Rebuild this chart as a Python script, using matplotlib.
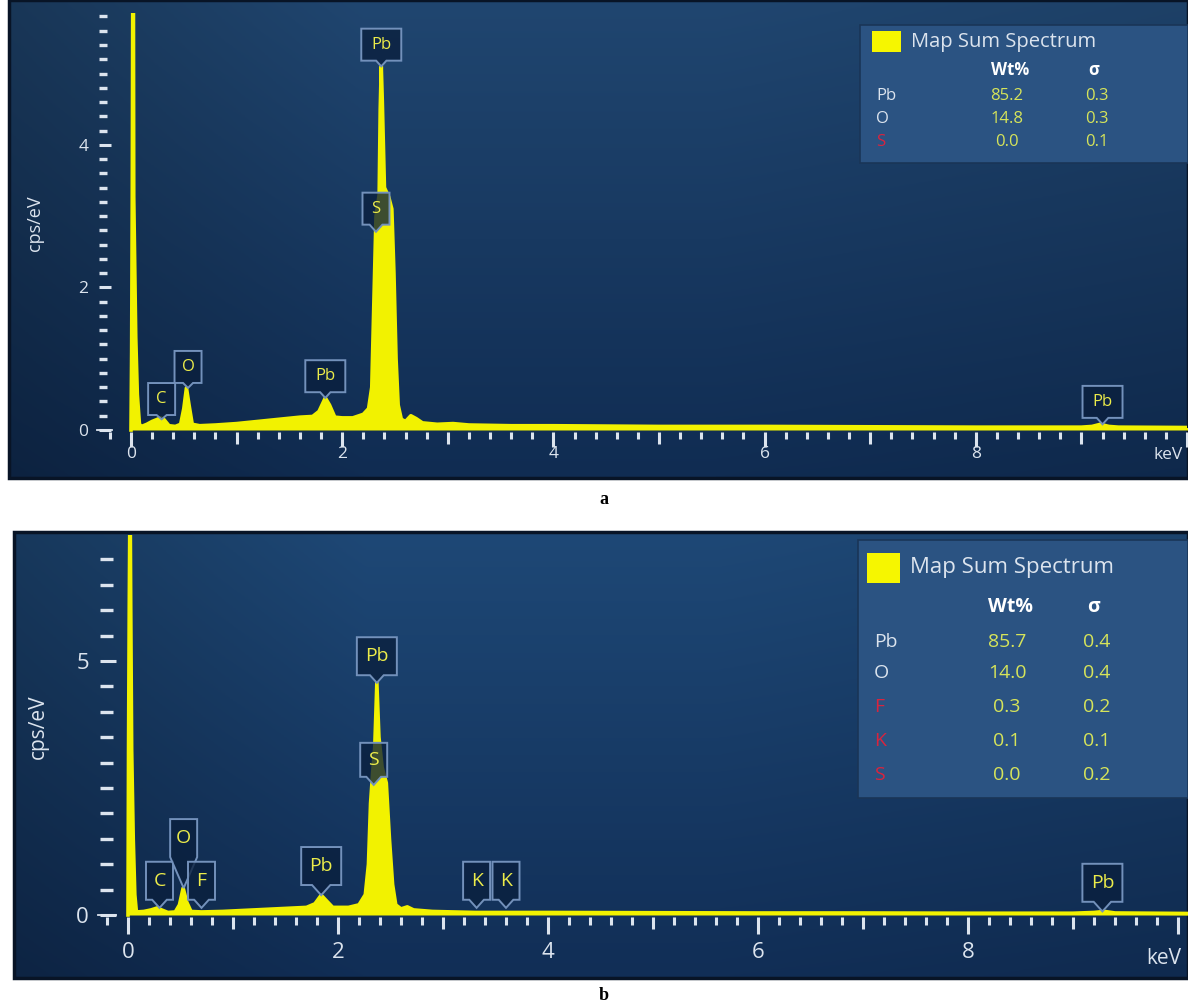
import matplotlib.pyplot as plt
import numpy as np
from matplotlib.patches import Rectangle, Polygon
from matplotlib.transforms import ScaledTranslation
from matplotlib.ticker import MultipleLocator, FuncFormatter

plt.rcParams['font.family'] = ['Open Sans', 'DejaVu Sans']

W, H = 1188, 1007

# ---- spectrum a (keV, cps/eV)
energy_a = [0.0, 0.006, 0.012, 0.018, 0.022, 0.026, 0.045, 0.06, 0.08, 0.1, 0.15, 0.2, 0.25,
            0.28, 0.31, 0.36, 0.42, 0.47, 0.5, 0.525, 0.55, 0.58, 0.65, 0.8, 1.0, 1.2, 1.4,
            1.6, 1.72, 1.78, 1.84, 1.88, 1.93, 2.0, 2.1, 2.2, 2.25, 2.28, 2.3, 2.32, 2.35,
            2.36, 2.37, 2.38, 2.4, 2.44, 2.47, 2.49, 2.51, 2.53, 2.56, 2.6, 2.65, 2.7, 2.76,
            2.9, 3.05, 3.2, 3.6, 4.0, 5.0, 6.0, 7.0, 8.0, 9.0, 9.1, 9.18, 9.26, 9.35, 10.0, 10.1]
counts_a = [0.0, 1.1, 3.27, 7.0, 7.0, 3.27, 1.3, 0.5, 0.08, 0.05, 0.08, 0.12, 0.15,
            0.17, 0.15, 0.06, 0.05, 0.08, 0.3, 0.59, 0.35, 0.08, 0.06, 0.07, 0.09, 0.12, 0.15,
            0.18, 0.19, 0.26, 0.45, 0.35, 0.18, 0.17, 0.17, 0.22, 0.3, 0.6, 1.8, 3.0, 3.3,
            4.5, 5.1, 4.6, 3.4, 3.27, 3.1, 2.2, 1.0, 0.35, 0.15, 0.12, 0.2, 0.16, 0.1,
            0.08, 0.09, 0.07, 0.06, 0.06, 0.05, 0.05, 0.045, 0.04, 0.04, 0.05, 0.08, 0.05, 0.04, 0.035, 0.035]

# ---- spectrum b
energy_b = [0.0, 0.005, 0.012, 0.018, 0.021, 0.026, 0.035, 0.05, 0.065, 0.08, 0.15, 0.22, 0.28,
            0.32, 0.38, 0.45, 0.49, 0.525, 0.56, 0.6, 0.7, 0.9, 1.2, 1.5, 1.7, 1.78, 1.84,
            1.89, 1.95, 2.1, 2.2, 2.26, 2.29, 2.31, 2.33, 2.35, 2.37, 2.39, 2.42, 2.46, 2.49,
            2.52, 2.55, 2.6, 2.66, 2.72, 2.9, 3.1, 3.31, 3.59, 4.0, 5.0, 6.0, 7.0, 8.0, 9.0,
            9.2, 9.3, 9.4, 10.1]
counts_b = [0.0, 3.25, 6.1, 8.0, 8.0, 6.1, 3.25, 1.5, 0.4, 0.06, 0.07, 0.1, 0.14,
            0.1, 0.05, 0.06, 0.2, 0.53, 0.25, 0.07, 0.06, 0.07, 0.1, 0.13, 0.15, 0.22, 0.39,
            0.28, 0.15, 0.15, 0.2, 0.4, 1.0, 2.2, 2.8, 3.3, 4.57, 3.5, 2.91, 2.6, 1.5,
            0.6, 0.2, 0.12, 0.16, 0.1, 0.07, 0.06, 0.05, 0.05, 0.05, 0.045, 0.04, 0.04, 0.035, 0.035,
            0.05, 0.07, 0.04, 0.03]

# ---- peak markers: element, energy, tip height, box bottom
peak_el_a = ['C', 'O', 'Pb', 'S', 'Pb', 'Pb']
peak_x_a = [0.29, 0.54, 1.84, 2.32, 2.37, 9.2]
peak_tip_a = [0.15, 0.59, 0.45, 2.78, 5.1, 0.08]
peak_box_a = [0.21, 0.66, 0.53, 2.88, 5.18, 0.17]

peak_el_b = ['C', 'O', 'F', 'Pb', 'S', 'Pb', 'K', 'K', 'Pb']
peak_x_b = [0.30, 0.53, 0.70, 1.84, 2.34, 2.37, 3.32, 3.60, 9.28]
peak_tip_b = [0.14, 0.53, 0.14, 0.39, 2.56, 4.57, 0.14, 0.14, 0.07]
peak_box_b = [0.30, 1.14, 0.30, 0.59, 2.72, 4.72, 0.30, 0.30, 0.26]

# ---- quantification tables
quant_el_a = ['Pb', 'O', 'S']
quant_wt_a = [85.2, 14.8, 0.0]
quant_sd_a = [0.3, 0.3, 0.1]

quant_el_b = ['Pb', 'O', 'F', 'K', 'S']
quant_wt_b = [85.7, 14.0, 0.3, 0.1, 0.0]
quant_sd_b = [0.4, 0.4, 0.2, 0.1, 0.2]

trace_els = {'S', 'F', 'K'}

YELLOW = '#f2f200'
LIGHT = '#dce4ee'
VALUE = '#d6e45a'

fig = plt.figure(figsize=(W / 100, H / 100), dpi=100)


def rect(x0, y0, x1, y1):
    return [x0 / W, 1 - y1 / H, (x1 - x0) / W, (y1 - y0) / H]


def fx(x):
    return x / W


def fy(y):
    return 1 - y / H


def panel_bg(x0, y0, x1, y1, top, bottom):
    bg = fig.add_axes(rect(x0, y0, x1, y1), zorder=0)
    t = np.linspace(0, 1, 200)[:, None, None]
    s = np.linspace(0, 1, 300)[None, :, None]
    col = np.array(top) / 255 * (1 - t) + np.array(bottom) / 255 * t
    shade = 0.78 + 0.22 * np.clip(s / 0.3, 0, 1) - 0.08 * np.clip((s - 0.6) / 0.4, 0, 1)
    bg.imshow(np.clip(col * shade, 0, 1), aspect='auto', extent=(0, 1, 0, 1))
    bg.set_axis_off()
    bg.add_patch(Rectangle((0, 0), 1, 1, transform=bg.transAxes, fill=False,
                           ec='#081426', lw=2.5, clip_on=False))


def spec_axes(zero_px, pxk, zero_py, pyu, xlim, ylim):
    x0 = zero_px + xlim[0] * pxk
    x1 = zero_px + xlim[1] * pxk
    y0 = zero_py - ylim[1] * pyu
    y1 = zero_py - ylim[0] * pyu
    ax = fig.add_axes(rect(x0, y0, x1, y1), zorder=1)
    ax.set_facecolor('none')
    ax.set_xlim(*xlim)
    ax.set_ylim(*ylim)
    for sp in ax.spines.values():
        sp.set_visible(False)
    return ax


def style_ticks(ax, ymaj, ymin, ticks_px, ylen, fs, xpad, ypad, zero_px):
    ax.xaxis.set_major_locator(MultipleLocator(1))
    ax.xaxis.set_minor_locator(MultipleLocator(0.2))
    ax.xaxis.set_major_formatter(FuncFormatter(
        lambda v, p: '%d' % v if (round(v) % 2 == 0 and v < 9.5) else ''))
    ax.yaxis.set_major_locator(MultipleLocator(ymaj))
    ax.yaxis.set_minor_locator(MultipleLocator(ymin))
    k = 0.72
    ax.tick_params(axis='x', which='major', direction='out', length=ticks_px[1] * k,
                   width=2.2, color=LIGHT, labelcolor=LIGHT, labelsize=fs, pad=xpad)
    ax.tick_params(axis='x', which='minor', direction='out', length=ticks_px[2] * k,
                   width=2.2, color=LIGHT)
    ax.tick_params(axis='y', which='major', direction='in', length=ylen[0] * k,
                   width=2.2, color=LIGHT, labelcolor=LIGHT, labelsize=fs, pad=ypad)
    ax.tick_params(axis='y', which='minor', direction='in', length=ylen[1] * k,
                   width=2.4, color=LIGHT)
    # even keV ticks are longer than the odd ones
    for loc, tk in zip(ax.get_xticks(), ax.xaxis.get_major_ticks()):
        if round(loc) % 2 == 0:
            tk.tick1line.set_markersize(ticks_px[0] * k)
    # thin zero tick, a little longer than the others
    width_px = ax.get_position().width * W
    ax.plot([-2 / width_px, zero_px / width_px], [0, 0], transform=ax.get_yaxis_transform(),
            color=LIGHT, lw=1.3, clip_on=False)


def callout(ax, name, x, tip, bottom, h, fs):
    w = 40 if len(name) > 1 else 27
    _, yb = ax.transData.transform((x, bottom))
    _, yt = ax.transData.transform((x, tip))
    d = (yb - yt) / 100
    wi, hi = w / 100, h / 100
    p = min(wi / 2, max(0.05, d * 0.9))
    trans = fig.dpi_scale_trans + ScaledTranslation(x, bottom, ax.transData)
    verts = [(-wi / 2, 0), (-p, 0), (0, -d), (p, 0), (wi / 2, 0), (wi / 2, hi), (-wi / 2, hi)]
    ax.add_patch(Polygon(verts, closed=True, transform=trans, fc=(0.04, 0.12, 0.24, 0.78),
                         ec='#7391bb', lw=1.4, zorder=5, clip_on=False))
    ax.text(0, hi / 2, name, transform=trans, ha='center', va='center', color='#ecec4a',
            fontsize=fs, zorder=6, clip_on=False)


def draw_spectrum(ax, e, c):
    ax.fill_between(e, 0, c, color=YELLOW, lw=0, zorder=3)
    ax.plot(e, c, color=YELLOW, lw=2.6, zorder=3, solid_joinstyle='round')


def legend_box(x0, y0, x1, y1, title_fs, fs, col_y, rows_y, els, wts, sds, sq):
    fig.add_artist(Rectangle((fx(x0), fy(y1)), (x1 - x0) / W, (y1 - y0) / H,
                             transform=fig.transFigure, fc='#2b5382', ec='#1a3557',
                             lw=1.2, zorder=3))
    fig.add_artist(Rectangle((fx(sq[0]), fy(sq[3])), (sq[2] - sq[0]) / W, (sq[3] - sq[1]) / H,
                             transform=fig.transFigure, fc='#f6f600', ec='none', zorder=4))
    fig.text(fx(sq[2] + 10), fy((sq[1] + sq[3]) / 2), 'Map Sum Spectrum', color=LIGHT,
             fontsize=title_fs, va='center', ha='left', zorder=5)
    fig.text(fx(1010), fy(col_y), 'Wt%', color='white', fontsize=fs, fontweight='bold',
             ha='center', va='center', zorder=5)
    fig.text(fx(1094), fy(col_y), 'σ', color='white', fontsize=fs, fontweight='bold',
             ha='center', va='center', zorder=5)
    for ry, el, wt, sd in zip(rows_y, els, wts, sds):
        fig.text(fx(x0 + 16), fy(ry), el, color='#d8243e' if el in trace_els else LIGHT,
                 fontsize=fs, ha='left', va='center', zorder=5)
        fig.text(fx(1007), fy(ry), '%.1f' % wt, color=VALUE, fontsize=fs,
                 ha='center', va='center', zorder=5)
        fig.text(fx(1097), fy(ry), '%.1f' % sd, color=VALUE, fontsize=fs,
                 ha='center', va='center', zorder=5)


# ---------------- panel a
panel_bg(9, 0, 1188, 478, (32, 70, 112), (16, 44, 82))
ax_a = spec_axes(131, 105.6, 430, 71.3, (-0.30, 10.0), (-0.03, 5.85))
style_ticks(ax_a, 2, 0.2, (15, 12, 7), (12, 8), 12.5, 1.5, 8, 13)
draw_spectrum(ax_a, energy_a, counts_a)
for el, x, tp, bt in zip(peak_el_a, peak_x_a, peak_tip_a, peak_box_a):
    callout(ax_a, el, x, tp, bt, 32, 12)
fig.text(fx(35), fy(223), 'cps/eV', rotation=90, color=LIGHT, fontsize=13,
         ha='center', va='center')
fig.text(fx(1168), fy(455), 'keV', color=LIGHT, fontsize=12.5, ha='center', va='center')
legend_box(860, 25, 1188, 163, 14.5, 12, 70, [96, 119, 142],
           quant_el_a, quant_wt_a, quant_sd_a, (872, 31, 901, 52))
fig.text(fx(604), fy(500), 'a', fontsize=13, fontweight='bold',
         family='Liberation Serif', ha='center', va='center')

# ---------------- panel b
panel_bg(14, 532, 1188, 978, (30, 72, 118), (17, 46, 86))
ax_b = spec_axes(128, 105, 915, 50.8, (-0.267, 10.095), (-0.04, 7.48))
style_ticks(ax_b, 5, 0.5, (17, 12, 8), (16, 13), 16, 9, 8, 16)
draw_spectrum(ax_b, energy_b, counts_b)
for el, x, tp, bt in zip(peak_el_b, peak_x_b, peak_tip_b, peak_box_b):
    callout(ax_b, el, x, tp, bt, 38 if el != 'S' else 34, 14)
fig.text(fx(38), fy(727), 'cps/eV', rotation=90, color=LIGHT, fontsize=15,
         ha='center', va='center')
fig.text(fx(1164), fy(958), 'keV', color=LIGHT, fontsize=15, ha='center', va='center')
legend_box(858, 540, 1188, 798, 16, 14, 607, [642, 673, 707, 741, 775],
           quant_el_b, quant_wt_b, quant_sd_b, (867, 553, 900, 583))
fig.text(fx(604), fy(995), 'b', fontsize=13, fontweight='bold',
         family='Liberation Serif', ha='center', va='center')

fig.savefig('out.png', dpi=100, facecolor='white')
